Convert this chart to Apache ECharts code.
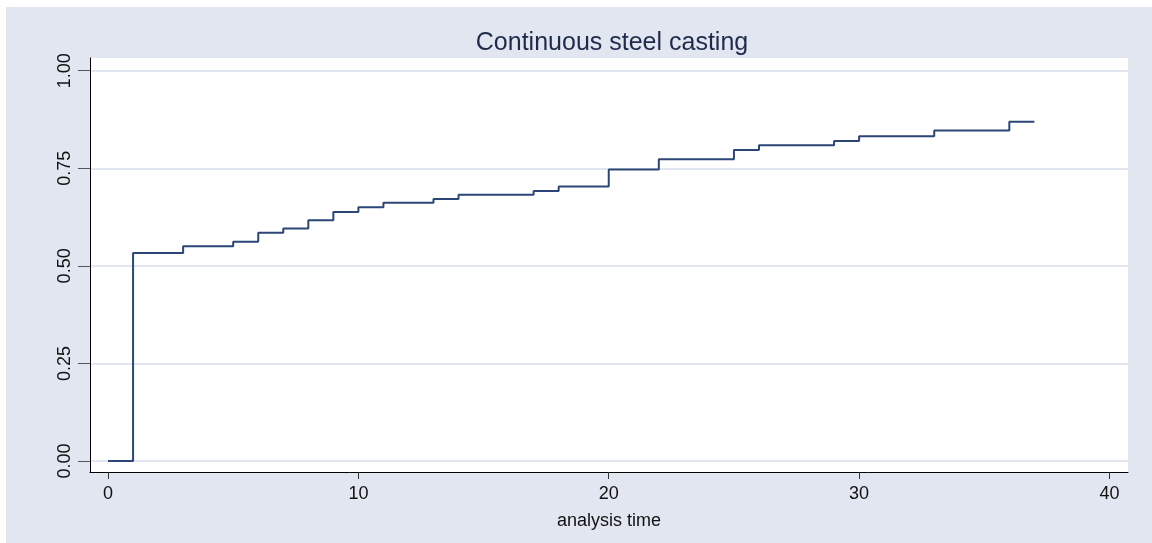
<!DOCTYPE html>
<html>
<head>
<meta charset="utf-8">
<title>Continuous steel casting</title>
<script src="https://cdn.jsdelivr.net/npm/echarts@6/dist/echarts.min.js"></script>
<style>
  html, body { margin: 0; padding: 0; background: #fff; }
  #chart { position: absolute; left: 6px; top: 7px; width: 1146px; height: 536px; }
</style>
</head>
<body>
<div id="chart"></div>
<script>
// analysis time at each step and the failure estimate from that time on
const times = [0, 1, 3, 5, 6, 7, 8, 9, 10, 11, 13, 14, 17, 18, 20, 22, 25, 26, 29, 30, 33, 36, 37]
const failure = [0, 0.533, 0.5505, 0.5615, 0.5846, 0.596, 0.617, 0.638, 0.65, 0.6615, 0.671, 0.682,
  0.692, 0.7036, 0.747, 0.773, 0.797, 0.809, 0.82, 0.832, 0.847, 0.869, 0.869]

const xTicks = [0, 10, 20, 30, 40]
const yTicks = [0, 0.25, 0.5, 0.75, 1]

const font = 'Liberation Sans, Arial, sans-serif'
const chart = echarts.init(document.getElementById('chart'))

chart.setOption({
  backgroundColor: '#e1e6f0',
  animation: false,
  title: {
    text: 'Continuous steel casting',
    left: 601,
    textAlign: 'center',
    top: 19,
    textStyle: { fontFamily: font, fontSize: 25, fontWeight: 'normal', color: '#1f2b4d' },
  },
  grid: { left: 84, right: 24, top: 51, bottom: 71, show: true, backgroundColor: '#fff', borderWidth: 0 },
  xAxis: {
    type: 'value',
    min: -0.72,
    max: 40.74,
    name: 'analysis time',
    nameLocation: 'middle',
    nameGap: 40,
    nameTextStyle: { fontFamily: font, fontSize: 18, color: '#111' },
    axisLine: { onZero: false, lineStyle: { color: '#000', width: 1 } },
    axisTick: { customValues: xTicks, length: 7, lineStyle: { color: '#333' } },
    axisLabel: { customValues: xTicks, margin: 13, fontFamily: font, fontSize: 18, color: '#111' },
    splitLine: { show: false },
  },
  yAxis: {
    type: 'value',
    min: -0.0282,
    max: 1.0326,
    axisLine: { show: true, onZero: false, lineStyle: { color: '#000', width: 1 } },
    axisTick: { show: true, customValues: yTicks, length: 12, lineStyle: { color: '#555' } },
    axisLabel: {
      customValues: yTicks,
      rotate: 90,
      margin: 16,
      fontFamily: font,
      fontSize: 18,
      color: '#111',
      formatter: v => v.toFixed(2),
    },
    splitLine: { show: true, lineStyle: { color: '#e1e6f0', width: 2 } },
  },
  series: [
    {
      type: 'line',
      step: 'end',
      data: times.map((t, i) => [t, failure[i]]),
      showSymbol: false,
      lineStyle: { color: '#2b4677', width: 2 },
    },
  ],
})
</script>
</body>
</html>
